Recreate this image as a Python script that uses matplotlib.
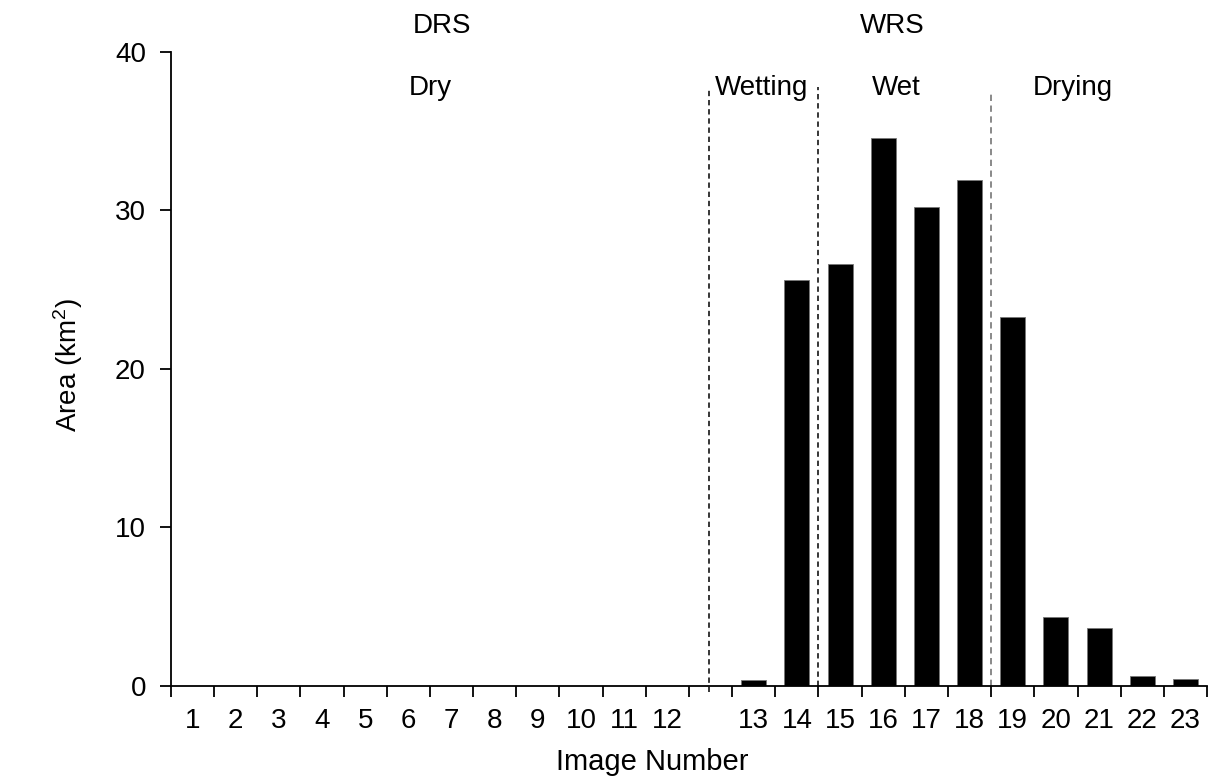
import matplotlib
matplotlib.use("Agg")
import matplotlib.pyplot as plt
from matplotlib.ticker import FixedLocator, NullFormatter, FixedFormatter

plt.rcParams["font.family"] = ["Liberation Sans", "DejaVu Sans"]
plt.rcParams["font.size"] = 20
plt.rcParams["mathtext.fontset"] = "custom"
plt.rcParams["mathtext.rm"] = "Liberation Sans"
plt.rcParams["mathtext.default"] = "rm"

# image number and flooded area (km^2)
image_number = list(range(1, 24))
area_km2 = [0, 0, 0, 0, 0, 0, 0, 0, 0, 0, 0, 0,
            0.35, 25.6, 26.6, 34.6, 30.2, 31.9, 23.3, 4.35, 3.65, 0.6, 0.45]

season_labels = ["DRS", "WRS"]
phase_labels = ["Dry", "Wetting", "Wet", "Drying"]
y_ticks = [0, 10, 20, 30, 40]

# one empty slot between image 12 and image 13
slots = [n - 1 if n <= 12 else n for n in image_number]
centers = [s + 0.5 for s in slots]

fig = plt.figure(figsize=(12.11, 7.84), dpi=100)
ax = fig.add_axes([0.1412, 0.125, 0.8555, 0.8087])

ax.bar(centers, area_km2, width=0.58, color="black", edgecolor="#777777", linewidth=0.6)

ax.set_xlim(0, 24)
ax.set_ylim(0, 40)
ax.spines["top"].set_visible(False)
ax.spines["right"].set_visible(False)
for sp in ("left", "bottom"):
    ax.spines[sp].set_linewidth(1.3)

ax.set_yticks(y_ticks)
ax.tick_params(axis="y", length=8, width=1.3, pad=10, labelsize=20)

# tick marks on slot boundaries, labels at slot centres
ax.xaxis.set_major_locator(FixedLocator(list(range(0, 25))))
ax.xaxis.set_major_formatter(NullFormatter())
ax.xaxis.set_minor_locator(FixedLocator(centers))
ax.xaxis.set_minor_formatter(FixedFormatter([str(n) for n in image_number]))
ax.tick_params(axis="x", which="major", length=8, width=1.3)
ax.tick_params(axis="x", which="minor", length=0, pad=16, labelsize=20)

ax.set_xlabel("Image Number", fontsize=21)
ax.xaxis.set_label_coords(0.465, -0.097)
ax.set_ylabel("Area (km$^{2}$)", fontsize=20)
ax.yaxis.set_label_coords(-0.083, 0.506)

# phase boundaries
gap_x = 12.46
ax.plot([gap_x, gap_x], [-0.4, 37.8], color="black", lw=1.1, ls=(0, (3.5, 2.5)), clip_on=False)
ax.plot([15, 15], [0, 37.8], color="black", lw=1.1, ls=(0, (3.5, 2.5)), clip_on=False)
ax.plot([19, 19], [0, 37.4], color="#808080", lw=1.3, ls=(0, (3.5, 2.5)), clip_on=False)

# season / phase annotations
ax.text(6.28, 41.2, season_labels[0], ha="center", va="baseline", fontsize=20, clip_on=False)
ax.text(16.72, 41.2, season_labels[1], ha="center", va="baseline", fontsize=20, clip_on=False)
ax.text(6.0, 37.3, phase_labels[0], ha="center", va="baseline", fontsize=20)
ax.text(13.68, 37.3, phase_labels[1], ha="center", va="baseline", fontsize=20)
ax.text(16.8, 37.3, phase_labels[2], ha="center", va="baseline", fontsize=20)
ax.text(20.88, 37.3, phase_labels[3], ha="center", va="baseline", fontsize=20)

fig.savefig("out.png", dpi=100)
